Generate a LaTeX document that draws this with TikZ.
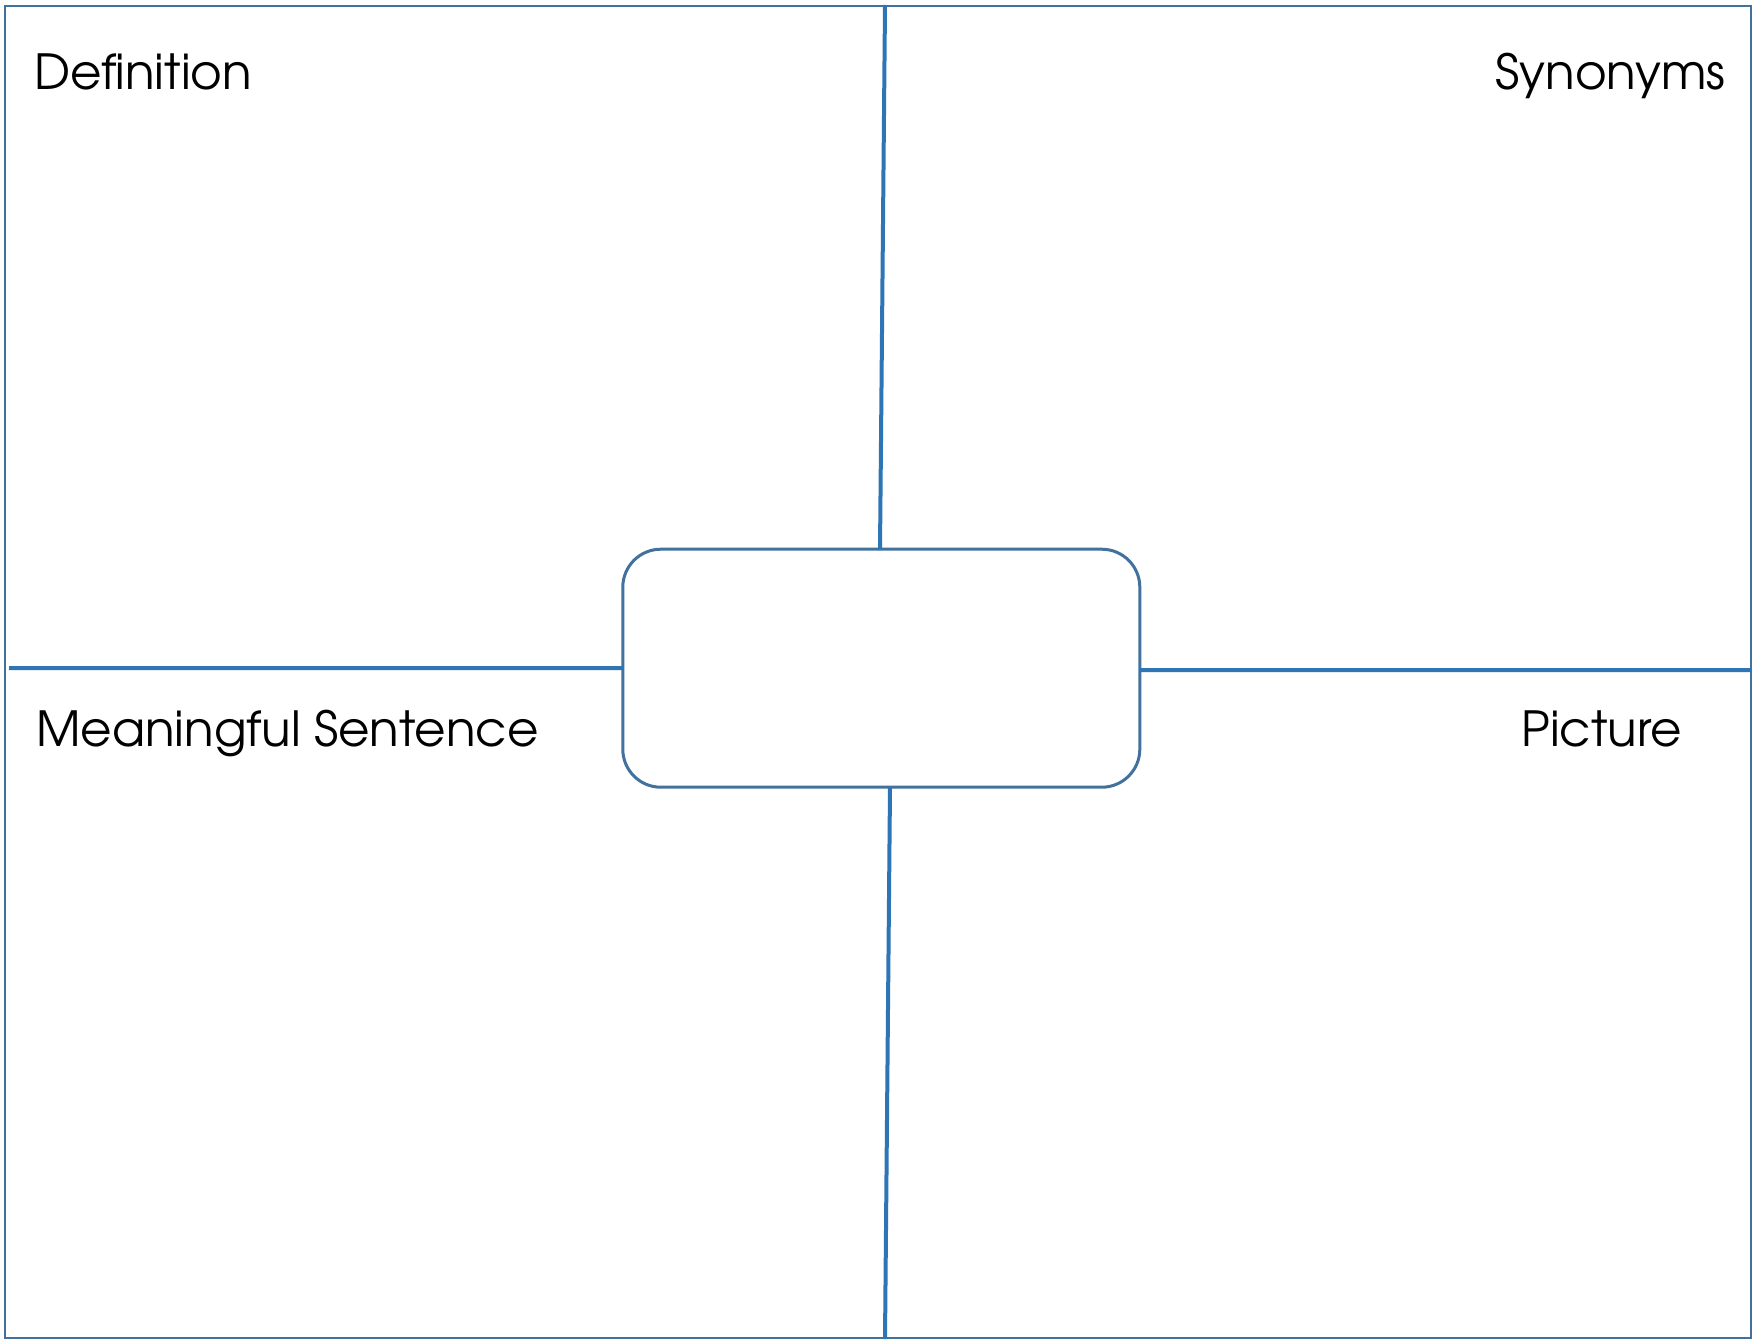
\documentclass[tikz,border=0pt]{standalone}
\usepackage{fontspec}
\setmainfont{texgyreadventor-regular.otf}
\definecolor{framecol}{HTML}{41719C}
\definecolor{linecol}{HTML}{2E75B6}
\begin{document}
\begin{tikzpicture}[x=0.5pt,y=-0.5pt,
  frame/.style={draw=framecol,line width=1pt},
  divider/.style={draw=linecol,line width=2pt},
  centrebox/.style={draw=framecol,line width=1.5pt,rounded corners=19pt,minimum width=258.5pt,minimum height=119pt,inner sep=0pt,outer sep=0pt},
  label/.style={font=\fontsize{24.2}{29}\selectfont,inner sep=0pt,text=black}]
\useasboundingbox (0,0) rectangle (1754,1339);
\fill[white] (0,0) rectangle (1754,1339);
\draw[frame] (5,5.5) rectangle (1751,1338);
\node[centrebox] (box) at (881.3,668.2) {};
\coordinate (topend) at (885,5);
\coordinate (botend) at (885,1339);
\coordinate (leftend) at (9,668);
\coordinate (rightend) at (1751,670);
\draw[divider] (topend) -- ([xshift=-0.65pt]box.north);
\draw[divider] ([xshift=4.35pt]box.south) -- (botend);
\draw[divider] (leftend) -- (box.west);
\draw[divider] ([yshift=-1pt]box.east) -- (rightend);
\node[label,anchor=base west] (def) at (34,89) {Definition};
\node[label,anchor=base east] (syn) at (1726,89) {Synonyms};
\node[label,anchor=base west] (mean) at (36,746) {Meaningful Sentence};
\node[label,anchor=base east] (pic) at (1682,746) {Picture};
\end{tikzpicture}
\end{document}
